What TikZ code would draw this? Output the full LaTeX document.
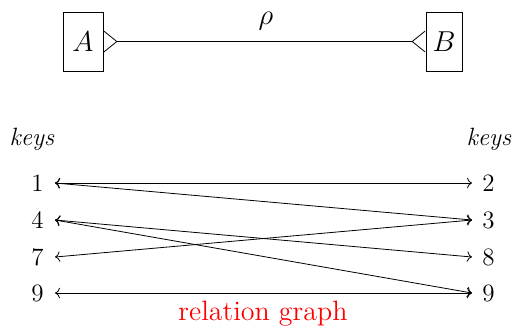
\documentclass[tikz,border=0pt]{standalone}
\usepackage{xcolor}
\usepackage{tikz}
\usetikzlibrary{
  arrows.meta,
  positioning
}
\tikzset{crow/.tip={Straight Barb[reversed, length=6.5pt, width=10.5pt]}}

\begin{document}
\begin{tikzpicture}[
  x=0.5pt, y=-0.5pt,
  every node/.style={font=\fontsize{12.5}{15}\selectfont},
  ent/.style={rectangle, draw, minimum height=29.5pt, inner sep=0pt,
              font=\fontsize{14}{16}\selectfont},
  lkey/.style={anchor=east, inner xsep=5.5pt},
  rkey/.style={anchor=west, inner xsep=5pt},
  arr/.style={<->, >={To}},
]
\useasboundingbox (0,0) rectangle (517,329);

% entities
\node[ent, minimum width=20pt] (A) at (83,41.5) {$A$};
\node[ent, minimum width=18pt] (B) at (444,41.5) {$B$};
\draw[crow-crow] (A) -- (B);
\node[font=\fontsize{14}{16}\selectfont] (rho) at (266,21) {$\rho$};

% key columns
\node (lhead) at (32,139) {\textit{keys}};
\node (rhead) at (489,139) {\textit{keys}};
\node[lkey] (l1) at (55,183) {1};
\node[lkey] (l4) at (55,220) {4};
\node[lkey] (l7) at (55,257) {7};
\node[lkey] (l9) at (55,293) {9};
\node[rkey] (r2) at (472,183) {2};
\node[rkey] (r3) at (472,220) {3};
\node[rkey] (r8) at (472,257) {8};
\node[rkey] (r9) at (472,293) {9};

\draw[arr] (l1.east) -- (r2.west);
\draw[arr] (l1.east) -- (r3.west);
\draw[arr] (l4.east) -- (r8.west);
\draw[arr] (l4.east) -- (r9.west);
\draw[arr] (l7.east) -- (r3.west);
\draw[arr] (l9.east) -- (r9.west);

\node[color=red, font=\fontsize{14}{16}\selectfont] (cap) at (263,314) {relation graph};
\end{tikzpicture}
\end{document}
